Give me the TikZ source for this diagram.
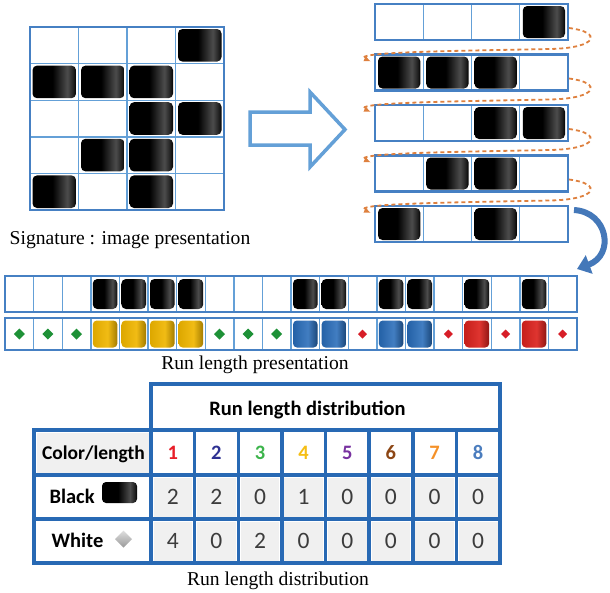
\documentclass[tikz,border=0pt]{standalone}
\usepackage{fontspec}
\setmainfont{Liberation Serif}
\newfontfamily\calib{Carlito}
\usetikzlibrary{arrows.meta,calc}
\definecolor{gridblue}{RGB}{100,160,215}
\definecolor{frameblue}{RGB}{70,128,195}
\definecolor{tblue}{RGB}{40,105,180}
\definecolor{dashor}{RGB}{222,128,62}
\definecolor{arrblue}{RGB}{68,120,185}
\definecolor{cellgray}{RGB}{240,240,240}
\definecolor{ngreen}{RGB}{30,145,55}
\definecolor{nred}{RGB}{215,30,40}
\definecolor{myyellow}{RGB}{240,182,0}
\definecolor{myblue}{RGB}{40,108,185}
\definecolor{myred}{RGB}{220,35,30}
\definecolor{nA}{RGB}{232,30,40}
\definecolor{nB}{RGB}{46,49,146}
\definecolor{nC}{RGB}{60,180,75}
\definecolor{nD}{RGB}{245,190,20}
\definecolor{nE}{RGB}{120,50,160}
\definecolor{nF}{RGB}{140,70,20}
\definecolor{nG}{RGB}{245,145,40}
\definecolor{nH}{RGB}{75,125,190}
\definecolor{numgray}{RGB}{60,60,60}
\pgfdeclarehorizontalshading{blkshade}{100bp}{color(0bp)=(black); color(48bp)=(black); color(65bp)=(black!70); color(72bp)=(black!88); color(75bp)=(black); color(100bp)=(black)}
\pgfdeclarehorizontalshading{yelshade}{100bp}{color(0bp)=(myyellow); color(25bp)=(myyellow!92!black); color(55bp)=(myyellow!92!white); color(75bp)=(myyellow!68!black); color(100bp)=(myyellow!68!black)}
\pgfdeclarehorizontalshading{blushade}{100bp}{color(0bp)=(myblue); color(25bp)=(myblue!90!black); color(55bp)=(myblue!88!white); color(75bp)=(myblue!65!black); color(100bp)=(myblue!65!black)}
\pgfdeclarehorizontalshading{redshade}{100bp}{color(0bp)=(myred); color(25bp)=(myred!90!black); color(55bp)=(myred!92!white); color(75bp)=(myred!65!black); color(100bp)=(myred!65!black)}
\newcommand\myfs[1]{\fontsize{#1}{#1}\selectfont}
\begin{document}
\begin{tikzpicture}[x=1pt,y=-1pt,
  blkcell/.style={shading=blkshade, rounded corners=4.5pt},
  yelcell/.style={shading=yelshade, rounded corners=4pt},
  blucell/.style={shading=blushade, rounded corners=4pt},
  redcell/.style={shading=redshade, rounded corners=4pt},
  frame/.style={draw=frameblue, line width=2.5pt, inner sep=0pt, outer sep=0pt, anchor=north west},
  divider/.style={draw=gridblue, line width=1.4pt},
  tline/.style={draw=tblue, line width=3.5pt},
  dashcurve/.style={draw=dashor, line width=1.8pt, dash pattern=on 4pt off 3pt, -{Latex[length=7pt,width=6pt]}},
  caption/.style={anchor=base, font=\myfs{19.6}},
  tbold/.style={anchor=base, font=\calib\bfseries\myfs{20.5}},
  tnum/.style={anchor=base, font=\calib\myfs{23.5}, text=numgray}]
\useasboundingbox (0,0) rectangle (610,592);

% ---------- top-left grid ----------
\foreach \k in {1,2,3} \draw[divider] ({30+48.5*\k},27) -- ({30+48.5*\k},210);
\foreach \k in {1,2,3,4} \draw[divider] (30,{27+36.6*\k}) -- (224,{27+36.6*\k});
\node[frame, minimum width=194pt, minimum height=183pt] (grid) at (30,27) {};
\foreach \c/\r in {4/1,1/2,2/2,3/2,3/3,4/3,2/4,3/4,1/5,3/5}
  \shade[blkcell] ({30+48.5*(\c-1)+2.5},{27+36.6*(\r-1)+2}) rectangle ({30+48.5*\c-2.5},{27+36.6*\r-2});
\node[caption] (cap1) at (130,244) {Signature : image presentation};

% ---------- hollow arrow ----------
\draw[line width=3.5pt, draw=gridblue, fill=white, line join=miter]
  (250,112) -- (310,112) -- (310,92) -- (345,129.5) -- (310,167) -- (310,145) -- (250,145) -- cycle;

% ---------- rows ----------
\foreach \i/\cells in {1/{4},2/{1,2,3},3/{3,4},4/{2,3},5/{1,3}}{
  \pgfmathsetmacro\T{4+50.5*(\i-1)}
  \foreach \k in {1,2,3} \draw[divider] ({375+48.25*\k},\T) -- ({375+48.25*\k},{\T+36});
  \node[frame, minimum width=193pt, minimum height=36pt] (r\i) at (375,\T) {};
  \foreach \c in \cells
    \shade[blkcell] ({375+48.25*(\c-1)+3},{\T+2}) rectangle ({375+48.25*\c-3},{\T+34});
}
\foreach \i/\j in {1/2,2/3,3/4,4/5}{
  \pgfmathsetmacro\T{4+50.5*(\i-1)}
  \draw[dashcurve] ($(r\i.east)+(1,6)$) .. controls (602,{\T+28}) and (599,{\T+44}) .. (550,{\T+45})
     .. controls (450,{\T+47}) and (350,{\T+48}) .. ($(r\j.north west)+(-4,7)$);
}

% ---------- long strips ----------
\foreach \k in {1,...,19} {
  \draw[divider] ({5+28.6*\k},276) -- ({5+28.6*\k},312);
  \draw[divider] ({5+28.6*\k},318) -- ({5+28.6*\k},350);
}
\node[frame, minimum width=572pt, minimum height=36pt] (s1) at (5,276) {};
\node[frame, minimum width=572pt, minimum height=32pt] (s2) at (5,318) {};
\foreach \c in {4,5,6,7,11,12,14,15,17,19}
  \shade[blkcell] ({5+28.6*(\c-1)+2},279) rectangle ({5+28.6*\c-2},309);
\foreach \c in {4,5,6,7}
  \shade[yelcell] ({5+28.6*(\c-1)+2},320.5) rectangle ({5+28.6*\c-2},347.5);
\foreach \c in {11,12,14,15}
  \shade[blucell] ({5+28.6*(\c-1)+2},320.5) rectangle ({5+28.6*\c-2},347.5);
\foreach \c in {17,19}
  \shade[redcell] ({5+28.6*(\c-1)+2},320.5) rectangle ({5+28.6*\c-2},347.5);
\foreach \c in {1,2,3,8,9,10}
  \fill[ngreen] ({5+28.6*(\c-0.5)},328.5) -- ++(5.5,5.5) -- ++(-5.5,5.5) -- ++(-5.5,-5.5) -- cycle;
\foreach \c in {13,16,18,20}
  \fill[nred] ({5+28.6*(\c-0.5)},329.5) -- ++(4.5,4.5) -- ++(-4.5,4.5) -- ++(-4.5,-4.5) -- cycle;
\node[caption] (cap2) at (255,369) {Run length presentation};

% ---------- blue curved arrow ----------
\draw[line width=6pt, draw=arrblue, -{Triangle[length=13pt,width=19pt]}]
  ($(r5.north east)+(6,4)$) .. controls (608,212) and (615,255) .. ($(s1.north east)+(0,-7)$);

% ---------- table ----------
\fill[cellgray] (36.5,432.5) rectangle (148.5,472.5);
\foreach \k in {0,...,7} \foreach \yy in {475,519}
  \fill[cellgray] ({151+43.625*\k+2.5},{\yy+2.5}) rectangle ({151+43.625*(\k+1)-2.5},{\yy+44-2.5});
\draw[tline] (151,384) rectangle (500,430);
\draw[tline] (34,430) rectangle (500,563);
\draw[tline] (34,475) -- (500,475);
\draw[tline] (34,519) -- (500,519);
\foreach \k in {0,...,7} \draw[tline] ({151+43.625*\k},430) -- ({151+43.625*\k},563);

\node[tbold] (thead) at (307.5,415) {Run length distribution};
\node[tbold, font=\calib\bfseries\myfs{19.5}] (tcl) at (93.5,459.5) {Color/length};
\foreach \n/\col in {1/nA,2/nB,3/nC,4/nD,5/nE,6/nF,7/nG,8/nH}
  \node[tbold, text=\col] (h\n) at ({151+43.625*(\n-0.5)},459.5) {\n};
\node[tbold, anchor=base west] (tblack) at (46,503.5) {Black};
\shade[blkcell, rounded corners=4pt] (102,482) rectangle (137,503);
\node[tbold, anchor=base west] (twhite) at (48,547) {White};
\shade[top color=gray!25, bottom color=gray!80] (123.5,530.5) -- (132,539) -- (123.5,547.5) -- (115,539) -- cycle;
\foreach \n/\v in {1/2,2/2,3/0,4/1,5/0,6/0,7/0,8/0}
  \node[tnum] (b\n) at ({151+43.625*(\n-0.5)},504.5) {\v};
\foreach \n/\v in {1/4,2/0,3/2,4/0,5/0,6/0,7/0,8/0}
  \node[tnum] (w\n) at ({151+43.625*(\n-0.5)},548.5) {\v};
\node[caption] (cap3) at (278,585) {Run length distribution};
\end{tikzpicture}
\end{document}
